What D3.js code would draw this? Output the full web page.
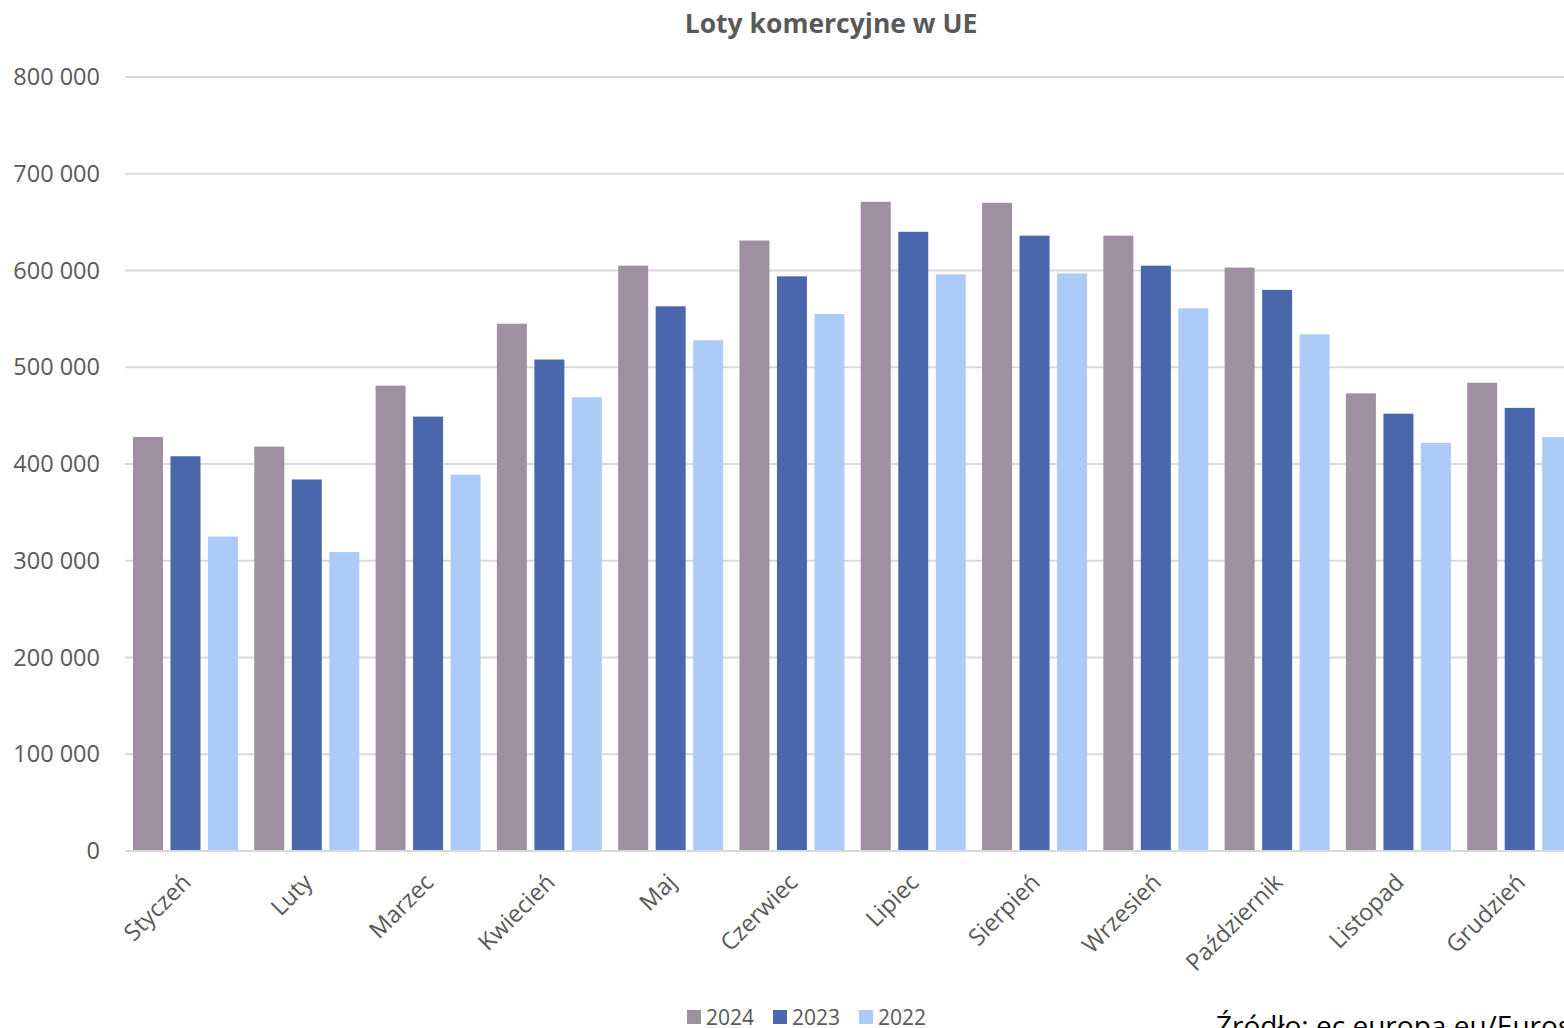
<!DOCTYPE html>
<html><head><meta charset="utf-8">
<script src="https://cdn.jsdelivr.net/npm/d3@7"></script>
<style>html,body{margin:0;padding:0;background:#fff;overflow:hidden}svg{display:block}text{font-family:"Open Sans",sans-serif;fill:#595959}</style>
</head><body>
<svg id="c" width="1564" height="1028"></svg>
<script>
const months = ["Styczeń","Luty","Marzec","Kwiecień","Maj","Czerwiec","Lipiec","Sierpień","Wrzesień","Październik","Listopad","Grudzień"];
const seriesNames = ["2024","2023","2022"];
const v2024 = [428000,418000,481000,545000,605000,631000,671000,670000,636000,603000,473000,484000];
const v2023 = [408000,384000,449000,508000,563000,594000,640000,636000,605000,580000,452000,458000];
const v2022 = [325000,309000,389000,469000,528000,555000,596000,597000,561000,534000,422000,428000];
const colors = ["#9e90a0","#4a67ae","#adcbf7"];
const yTicks = [0,100000,200000,300000,400000,500000,600000,700000,800000];

const svg = d3.select("#c");
const x = d3.scaleBand().domain(months).range([125,1580.5]).padding(0);
const xi = d3.scaleBand().domain(seriesNames).range([8,113]).paddingInner(0.2).paddingOuter(0);
const y = d3.scaleLinear().domain([0,800000]).range([851,77]);
const fmt = v => d3.format(",")(v).replace(/,/g," ");

// grid
svg.append("g").selectAll("line").data(yTicks).join("line")
  .attr("x1",125).attr("x2",1564).attr("y1",d=>y(d)).attr("y2",d=>y(d))
  .attr("stroke","#d9d9d9").attr("stroke-width",2);

// y axis labels
const yAxis = d3.axisLeft(y).tickValues(yTicks).tickFormat(fmt).tickSize(0).tickPadding(0);
const ya = svg.append("g").attr("transform","translate(100,0)").call(yAxis);
ya.select(".domain").remove();
ya.selectAll("text").style("font-family","'Open Sans',sans-serif").style("font-size","23.5px").attr("fill","#595959");

// bars
const data = [v2024,v2023,v2022];
data.forEach((vals,si)=>{
  svg.append("g").selectAll("rect").data(vals).join("rect")
    .attr("x",(d,i)=>x(months[i])+xi(seriesNames[si]))
    .attr("width",xi.bandwidth())
    .attr("y",d=>y(d)).attr("height",d=>y(0)-y(d))
    .attr("fill",colors[si]);
});

// x axis line
svg.append("line").attr("x1",125).attr("x2",1564).attr("y1",y(0)).attr("y2",y(0)).attr("stroke","#d9d9d9").attr("stroke-width",2);

// x labels
const xAxis = d3.axisBottom(x).tickSize(0).tickPadding(0);
const xa = svg.append("g").attr("transform",`translate(0,${y(0)})`).call(xAxis);
xa.select(".domain").remove();
xa.selectAll("text")
  .style("font-family","'Open Sans',sans-serif").style("font-size","23.5px").attr("fill","#595959")
  .attr("text-anchor","end").attr("dy","0.35em")
  .attr("transform","translate(1,27) rotate(-45)");

// title
svg.append("text").attr("x",831).attr("y",33).attr("text-anchor","middle")
  .style("font-size","26.5px").style("font-weight","bold").text("Loty komercyjne w UE");

// legend
const lg = svg.append("g").attr("transform","translate(687,1008)");
const lx = [0,86,172];
seriesNames.forEach((s,i)=>{
  lg.append("rect").attr("x",lx[i]).attr("y",2).attr("width",14).attr("height",14).attr("fill",colors[i]);
  lg.append("text").attr("x",lx[i]+19).attr("y",17).style("font-size","21px").text(s);
});

// source
svg.append("text").attr("x",1216).attr("y",1036).style("font-size","28px").style("fill","#000").text("Źródło: ec.europa.eu/Eurostat");
</script>
</body></html>
